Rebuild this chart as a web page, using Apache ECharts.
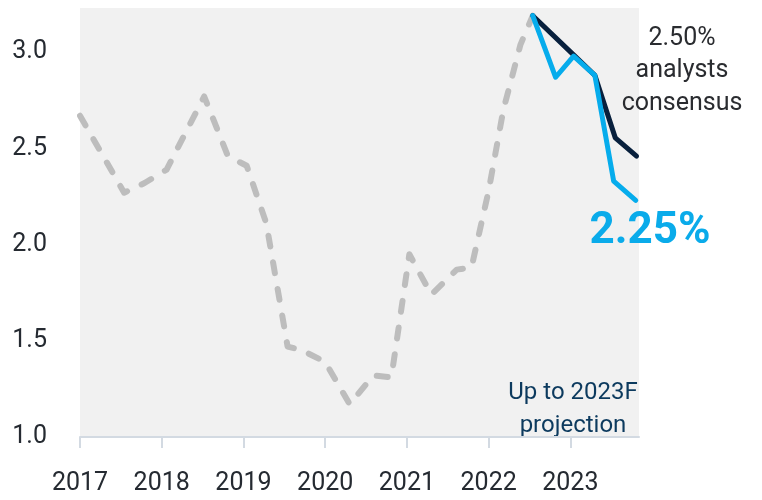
<!DOCTYPE html>
<html>
<head>
<meta charset="utf-8">
<script src="https://cdn.jsdelivr.net/npm/echarts@6/dist/echarts.min.js"></script>
<style>
  html, body { margin: 0; padding: 0; background: #fff; }
  #chart { width: 762px; height: 500px; }
</style>
</head>
<body>
<div id="chart"></div>
<script>
// historical rate (decimal years)
const histYears = [2017.00, 2017.54, 2017.79, 2018.06, 2018.52, 2018.81, 2019.04, 2019.28, 2019.54, 2019.72,
  2020.00, 2020.30, 2020.59, 2020.81, 2021.03, 2021.30, 2021.61, 2021.79, 2022.00, 2022.18, 2022.39, 2022.54]
const histValues = [2.67, 2.27, 2.32, 2.39, 2.77, 2.46, 2.41, 2.11, 1.47, 1.45,
  1.39, 1.17, 1.32, 1.31, 1.95, 1.74, 1.87, 1.88, 2.28, 2.70, 3.04, 3.19]

// analysts consensus projection
const consensusYears = [2022.54, 2023.03, 2023.30, 2023.55, 2023.81]
const consensusValues = [3.19, 2.99, 2.88, 2.555, 2.46]

// own projection
const projYears = [2022.54, 2022.82, 2023.04, 2023.30, 2023.53, 2023.80]
const projValues = [3.19, 2.87, 2.98, 2.88, 2.33, 2.23]

const yearTicks = [2017, 2018, 2019, 2020, 2021, 2022, 2023]
const rateTicks = [1.0, 1.5, 2.0, 2.5, 3.0]

const consensusNote = '2.50%\nanalysts\nconsensus'
const projNote = '2.25%'
const rangeNote = 'Up to 2023F\nprojection'

const font = '"Roboto", "Noto Sans", sans-serif'

const pairs = (xs, ys) => xs.map((x, i) => [x, ys[i]])

const chart = echarts.init(document.getElementById('chart'))

chart.setOption({
  animation: false,
  grid: {
    left: 80,
    right: 123,
    top: 8,
    bottom: 63,
    show: true,
    backgroundColor: '#f1f1f1',
    borderWidth: 0
  },
  xAxis: {
    type: 'value',
    min: 2017,
    max: 2023.84,
    interval: 1,
    splitLine: { show: false },
    axisLine: { show: true, lineStyle: { color: '#d3dae2', width: 2 } },
    axisTick: { show: true, length: 11, customValues: yearTicks, lineStyle: { color: '#d3dae2', width: 2 } },
    axisLabel: {
      customValues: yearTicks,
      formatter: v => String(v),
      margin: 34,
      color: '#252a31',
      fontSize: 25,
      fontFamily: font
    }
  },
  yAxis: {
    type: 'value',
    min: 1,
    max: 3.23,
    interval: 0.5,
    splitLine: { show: false },
    axisLine: { show: false },
    axisTick: { show: false },
    axisLabel: {
      customValues: rateTicks,
      formatter: v => v.toFixed(1),
      margin: 33,
      color: '#252a31',
      fontSize: 25,
      fontFamily: font
    }
  },
  series: [{
    name: 'history',
    type: 'line',
    data: pairs(histYears, histValues),
    symbol: 'none',
    lineStyle: { color: '#bdbdbd', width: 6, type: [11, 16], cap: 'round', join: 'round' }
  }, {
    name: 'consensus',
    type: 'line',
    data: pairs(consensusYears, consensusValues),
    symbol: 'none',
    lineStyle: { color: '#08203d', width: 5, cap: 'round', join: 'round' }
  }, {
    name: 'projection',
    type: 'line',
    data: pairs(projYears, projValues),
    symbol: 'none',
    lineStyle: { color: '#06acec', width: 5, cap: 'round', join: 'round' }
  }],
  graphic: [{
    type: 'text',
    x: 682, y: 22,
    style: {
      text: consensusNote, fill: '#2a2c30', fontSize: 25, fontFamily: font,
      align: 'center', verticalAlign: 'top', lineHeight: 32.5
    }
  }, {
    type: 'text',
    x: 650, y: 232,
    style: {
      text: projNote, fill: '#0aabea', fontSize: 44, fontWeight: 'bold', fontFamily: font,
      align: 'center', verticalAlign: 'middle'
    }
  }, {
    type: 'text',
    x: 573, y: 376,
    style: {
      text: rangeNote, fill: '#0c3a5e', fontSize: 24, fontFamily: font,
      align: 'center', verticalAlign: 'top', lineHeight: 33
    }
  }]
})
</script>
</body>
</html>
